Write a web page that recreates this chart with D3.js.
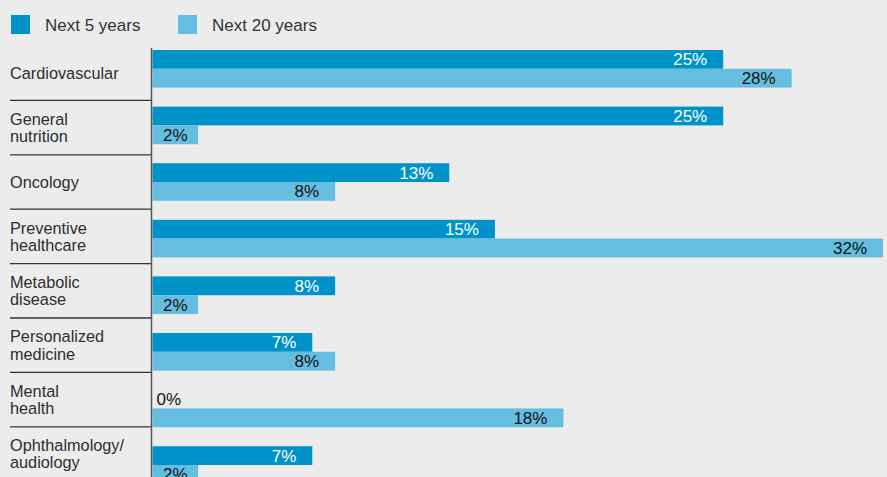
<!DOCTYPE html>
<html>
<head>
<meta charset="utf-8">
<script src="https://cdn.jsdelivr.net/npm/d3@7"></script>
<style>
  html, body { margin: 0; padding: 0; background: #ececec; }
  svg { display: block; font-family: "Liberation Sans", Arial, sans-serif; }
</style>
</head>
<body>
<svg id="chart" width="887" height="477"></svg>
<script>
// Share of respondents expecting growth, by therapeutic area
const categories = [
  "Cardiovascular",
  "General nutrition",
  "Oncology",
  "Preventive healthcare",
  "Metabolic disease",
  "Personalized medicine",
  "Mental health",
  "Ophthalmology/ audiology"
];
const categoryLines = [
  ["Cardiovascular"],
  ["General", "nutrition"],
  ["Oncology"],
  ["Preventive", "healthcare"],
  ["Metabolic", "disease"],
  ["Personalized", "medicine"],
  ["Mental", "health"],
  ["Ophthalmology/", "audiology"]
];
const seriesNames = ["Next 5 years", "Next 20 years"];
const next5 = [25, 25, 13, 15, 8, 7, 0, 7];
const next20 = [28, 2, 8, 32, 2, 8, 18, 2];
const seriesValues = [next5, next20];

const colors = ["#0093c9", "#65bee0"];
const labelColors = ["#ffffff", "#111111"];

const svg = d3.select("#chart");
const W = 887, H = 477;

svg.append("rect").attr("width", W).attr("height", H).attr("fill", "#ececec");

// Scales
const x = d3.scaleLinear().domain([0, 32]).range([152.5, 883]);
const rows = d3.scaleBand().domain(categories).range([46, 46 + 8 * 54.4]);
const groups = d3.scaleBand().domain(categories).range([50, 50 + 8 * 56.6]);
const inner = d3.scaleBand().domain(seriesNames).range([0, 37.6]);

// Legend
const legend = svg.append("g");
const legendX = [11, 178];
seriesNames.forEach((name, i) => {
  legend.append("rect")
    .attr("x", legendX[i]).attr("y", 15)
    .attr("width", 19).attr("height", 19)
    .attr("fill", colors[i]);
  legend.append("text")
    .attr("x", legendX[i] + 34).attr("y", 31)
    .attr("font-size", 17).attr("fill", "#333")
    .text(name);
});

// Row separators on the category side
svg.append("g").selectAll("line")
  .data(categories.slice(1))
  .join("line")
  .attr("x1", 10).attr("x2", 151.5)
  .attr("y1", d => rows(d)).attr("y2", d => rows(d))
  .attr("stroke", "#333").attr("stroke-width", 1.3);

// Category labels
const labels = svg.append("g");
categories.forEach((c, i) => {
  const lines = categoryLines[i];
  const center = rows(c) + rows.bandwidth() / 2;
  const lh = 17.3;
  const t = labels.append("text")
    .attr("font-size", 16.3).attr("fill", "#2e2e2e");
  lines.forEach((ln, k) => {
    t.append("tspan")
      .attr("x", 10)
      .attr("y", center + 5.8 - (lines.length - 1) * lh / 2 + k * lh)
      .text(ln);
  });
});

// Bars
const bars = svg.append("g");
seriesNames.forEach((s, si) => {
  const vals = seriesValues[si];
  bars.selectAll(null)
    .data(categories)
    .join("rect")
    .attr("x", x(0))
    .attr("y", d => groups(d) + inner(s))
    .attr("width", (d, i) => x(vals[i]) - x(0))
    .attr("height", inner.bandwidth())
    .attr("fill", colors[si]);
});

// Value labels
const vl = svg.append("g").attr("font-size", 17);
seriesNames.forEach((s, si) => {
  const vals = seriesValues[si];
  categories.forEach((c, i) => {
    const v = vals[i];
    const yMid = groups(c) + inner(s) + inner.bandwidth() / 2 + 6;
    const w = x(v) - x(0);
    const t = vl.append("text").attr("y", yMid).text(v + "%");
    if (v === 0) {
      t.attr("x", x(0) + 4).attr("text-anchor", "start").attr("fill", "#111");
    } else if (w < 60) {
      t.attr("x", (x(0) + x(v)) / 2).attr("text-anchor", "middle").attr("fill", labelColors[si]);
    } else {
      t.attr("x", x(v) - 16).attr("text-anchor", "end").attr("fill", labelColors[si]);
    }
  });
});

// Vertical baseline
svg.append("line")
  .attr("x1", 151.5).attr("x2", 151.5)
  .attr("y1", 48).attr("y2", H)
  .attr("stroke", "#555").attr("stroke-width", 1.5);
</script>
</body>
</html>
